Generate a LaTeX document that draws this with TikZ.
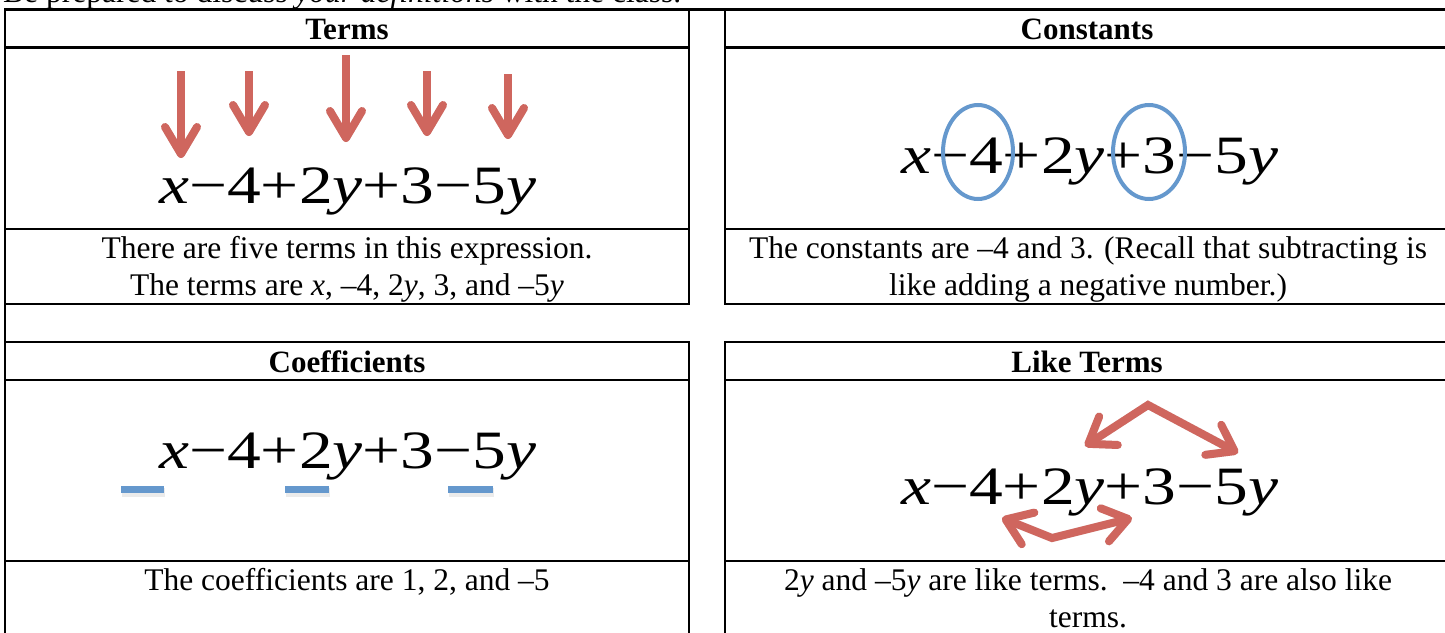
\documentclass[tikz,border=0pt]{standalone}
\usepackage{fontspec}
\usepackage{graphicx}
\setmainfont{Liberation Serif}
\usetikzlibrary{arrows.meta}
\definecolor{redarr}{RGB}{207,102,94}
\definecolor{bluemk}{RGB}{101,152,205}
\newcommand{\mexpr}{\scalebox{1.25}[1]{\textit{x}−4+2\textit{y}+3−5\textit{y}}}
\begin{document}
\begin{tikzpicture}[x=1pt,y=-1pt,
  tline/.style={line width=2.6pt, line cap=rect},
  hdr/.style={font=\fontsize{31}{34}\selectfont\bfseries, inner sep=0, anchor=base},
  body/.style={font=\fontsize{31.5}{36}\selectfont, inner sep=0, anchor=base},
  expr/.style={font=\fontsize{54}{54}\selectfont, inner sep=0, anchor=base west},
  rarrow/.style={draw=redarr, line width=8pt, line cap=butt,
    -{Straight Barb[round,length=27pt,width=32pt]}},
  rdarrow/.style={draw=redarr, line width=8pt, line cap=butt, line join=miter,
    {Straight Barb[round,length=24pt,width=34pt]}-{Straight Barb[round,length=24pt,width=34pt]}},
  shad/.style={draw=black, opacity=0.08},
  bring/.style={draw=bluemk, line width=4pt},
  bdash/.style={fill=bluemk, draw=none}
]
\useasboundingbox (0,0) rectangle (1445,632);
\clip (0,0) rectangle (1445,632);

% top sentence (cut off)
\node[body, anchor=base west] (intro) at (3,2) {Be prepared to discuss \textit{your definitions} with the class.};

% table lines
\draw[tline] (5,9.5) -- (1450,9.5);
\draw[tline] (5,47.5) -- (689,47.5);
\draw[tline] (725,47.5) -- (1450,47.5);
\draw[tline] (5,229) -- (689,229);
\draw[tline] (725,229) -- (1450,229);
\draw[tline] (5,304) -- (689,304);
\draw[tline] (725,304) -- (1450,304);
\draw[tline] (5,342) -- (689,342);
\draw[tline] (725,342) -- (1450,342);
\draw[tline] (5,380) -- (689,380);
\draw[tline] (725,380) -- (1450,380);
\draw[tline] (5,561) -- (689,561);
\draw[tline] (725,561) -- (1450,561);
\draw[tline] (5,9.5) -- (5,640);
\draw[tline] (689,9.5) -- (689,304);
\draw[tline] (725,9.5) -- (725,304);
\draw[tline] (689,342) -- (689,640);
\draw[tline] (725,342) -- (725,640);
\draw[tline] (1450,9.5) -- (1450,640);

% headers
\node[hdr] (hterms) at (347,39) {Terms};
\node[hdr] (hconst) at (1087,39) {Constants};
\node[hdr] (hcoef) at (347,372) {Coefficients};
\node[hdr] (hlike) at (1087,372) {Like Terms};

% body texts
\node[body] (t1a) at (347,258) {There are five terms in this expression.};
\node[body] (t1b) at (347,295) {The terms are \textit{x}, –4, 2\textit{y}, 3, and –5\textit{y}};
\node[body] (t2a) at (1088,258) {The constants are –4 and 3. (Recall that subtracting is};
\node[body] (t2b) at (1088,295) {like adding a negative number.)};
\node[body] (t3a) at (347,590) {The coefficients are 1, 2, and –5};
\node[body] (t4a) at (1088,590) {2\textit{y} and –5\textit{y} are like terms.\ \ –4 and 3 are also like};
\node[body] (t4b) at (1088,627) {terms.};

% expressions
\node[expr] (e1) at (159,203) {\mexpr};
\node[expr] (e2) at (901,173) {\mexpr};
\node[expr] (e3) at (159,468) {\mexpr};
\node[expr] (e4) at (901,504) {\mexpr};

% Terms arrows
\coordinate (a1s) at (181,71);  \coordinate (a1e) at (181,158);
\coordinate (a2s) at (249,71);  \coordinate (a2e) at (249,136);
\coordinate (a3s) at (346,55);  \coordinate (a3e) at (346,142);
\coordinate (a4s) at (427,71);  \coordinate (a4e) at (427,136);
\coordinate (a5s) at (508,74);  \coordinate (a5e) at (508,139);
\foreach \i in {1,...,5} {
  \begin{scope}[shift={(2,4)}]\draw[rarrow,shad] (a\i s) -- (a\i e);\end{scope}
  \draw[rarrow] (a\i s) -- (a\i e);}

% Constants rings
\draw[bring] (978,152) ellipse [x radius=35, y radius=47];
\draw[bring] (1149,152) ellipse [x radius=36, y radius=47];

% Coefficient dashes
\foreach \xa/\xb in {121/164, 285/329, 448/493} {
  \fill[black, opacity=0.08] (\xa+1,488) rectangle (\xb+1,497);
  \fill[bdash] (\xa,485.5) rectangle (\xb,492.5);}

% Like terms arrows
\coordinate (u1) at (1085,446); \coordinate (uv) at (1148,405); \coordinate (u2) at (1238,453);
\coordinate (l1) at (1002,518); \coordinate (lv) at (1052,538); \coordinate (l2) at (1132,518);
\begin{scope}[shift={(2,4)}]
\draw[rdarrow,shad] (u1) -- (uv) -- (u2);
\draw[rdarrow,shad] (l1) -- (lv) -- (l2);
\end{scope}
\draw[rdarrow] (u1) -- (uv) -- (u2);
\draw[rdarrow] (l1) -- (lv) -- (l2);
\end{tikzpicture}
\end{document}
